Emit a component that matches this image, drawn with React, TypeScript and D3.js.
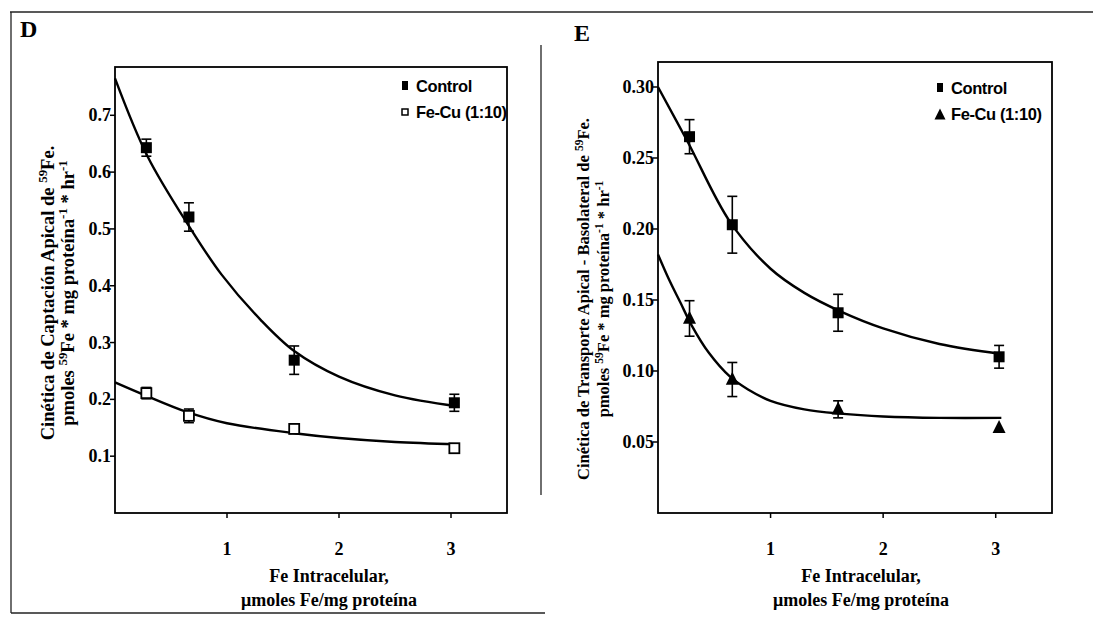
import React from "react";
import * as d3 from "d3";

// ---------- data ----------
const xValues = [0.28, 0.66, 1.6, 3.03];

const dControl = [0.643, 0.521, 0.269, 0.194];
const dControlErr = [0.015, 0.025, 0.025, 0.015];
const dFeCu = [0.211, 0.171, 0.148, 0.114];
const dFeCuErr = [0.01, 0.012, 0.008, 0.006];

const eControl = [0.265, 0.203, 0.141, 0.11];
const eControlErr = [0.012, 0.02, 0.013, 0.008];
const eFeCu = [0.137, 0.094, 0.073, 0.06];
const eFeCuErr = [0.0125, 0.012, 0.006, 0];

// fitted curves
const dControlFit: [number, number][] = [[0, 0.765], [0.29, 0.628], [0.67, 0.502], [0.95, 0.42], [1.3, 0.34], [1.6, 0.285], [2.0, 0.24], [2.5, 0.207], [3.05, 0.188]];
const dFeCuFit: [number, number][] = [[0, 0.23], [0.26, 0.208], [0.64, 0.178], [1.0, 0.158], [1.62, 0.14], [2.0, 0.132], [2.5, 0.125], [3.05, 0.121]];
const eControlFit: [number, number][] = [[0, 0.3], [0.26, 0.262], [0.64, 0.205], [1.0, 0.172], [1.3, 0.155], [1.62, 0.142], [2.0, 0.13], [2.5, 0.119], [3.05, 0.112]];
const eFeCuFit: [number, number][] = [[0, 0.182], [0.1, 0.164], [0.2, 0.148], [0.3, 0.132], [0.45, 0.113], [0.64, 0.096], [0.8, 0.087], [1.0, 0.079], [1.3, 0.073], [1.62, 0.07], [2.0, 0.068], [2.5, 0.067], [3.05, 0.067]];

const xTicks = [1, 2, 3];
const dYTicks = [0.1, 0.2, 0.3, 0.4, 0.5, 0.6, 0.7];
const eYTicks = [0.05, 0.1, 0.15, 0.2, 0.25, 0.3];
const legendLabels = ["Control", "Fe-Cu (1:10)"];

const SERIF = "'Liberation Serif', 'Times New Roman', serif";
const SANS = "'Liberation Sans', Arial, sans-serif";

type PanelProps = {
  letter: string;
  letterX: number; letterY: number;
  left: number; right: number; top: number; bottom: number;
  yMax: number;
  yTicks: number[];
  yFmt: (v: number) => string;
  ctrl: number[]; ctrlErr: number[]; ctrlFit: [number, number][];
  alt: number[]; altErr: number[]; altFit: [number, number][];
  altShape: "openSquare" | "triangle";
  yTitle1: React.ReactNode; yTitle2: React.ReactNode;
  yTitleX: number; yTitleY: number; yTitleSize: number;
  xTitleShift: number;
  legendX: number; legendY: number;
};

function Panel(p: PanelProps) {
  const x = d3.scaleLinear().domain([0, 3.5]).range([p.left, p.right]);
  const y = d3.scaleLinear().domain([0, p.yMax]).range([p.bottom, p.top]);
  const line = d3.line<[number, number]>().x(d => x(d[0])).y(d => y(d[1])).curve(d3.curveCatmullRom.alpha(0.5));
  const cx = (p.left + p.right) / 2 + p.xTitleShift;

  const errBars = (vals: number[], errs: number[], key: string) =>
    vals.map((v, i) => errs[i] > 0 ? (
      <g key={key + i} stroke="#000" strokeWidth={1.6}>
        <line x1={x(xValues[i])} x2={x(xValues[i])} y1={y(v + errs[i])} y2={y(v - errs[i])} />
        <line x1={x(xValues[i]) - 5} x2={x(xValues[i]) + 5} y1={y(v + errs[i])} y2={y(v + errs[i])} />
        <line x1={x(xValues[i]) - 5} x2={x(xValues[i]) + 5} y1={y(v - errs[i])} y2={y(v - errs[i])} />
      </g>
    ) : null);

  const tri = (px: number, py: number, s: number) =>
    `M${px},${py - s * 0.6}L${px + s / 2},${py + s * 0.4}L${px - s / 2},${py + s * 0.4}Z`;

  return (
    <g>
      <text x={p.letterX} y={p.letterY} fontFamily={SERIF} fontWeight="bold" fontSize={24}>{p.letter}</text>
      {/* plot frame */}
      <rect x={p.left} y={p.top} width={p.right - p.left} height={p.bottom - p.top} fill="none" stroke="#000" strokeWidth={1.8} />
      {/* y ticks */}
      {p.yTicks.map(t => (
        <g key={"yt" + t}>
          <line x1={p.left - 5} x2={p.left} y1={y(t)} y2={y(t)} stroke="#000" strokeWidth={1.5} />
          <text x={p.left - 4} y={y(t) + 6} textAnchor="end" fontFamily={SERIF} fontWeight="bold" fontSize={18}>{p.yFmt(t)}</text>
        </g>
      ))}
      {/* x ticks */}
      {xTicks.map(t => (
        <g key={"xt" + t}>
          <line x1={x(t)} x2={x(t)} y1={p.bottom} y2={p.bottom + 5} stroke="#000" strokeWidth={1.5} />
          <text x={x(t)} y={p.bottom + 42} textAnchor="middle" fontFamily={SERIF} fontWeight="bold" fontSize={18}>{t}</text>
        </g>
      ))}
      {/* curves */}
      <path d={line(p.ctrlFit) || ""} fill="none" stroke="#000" strokeWidth={2.4} />
      <path d={line(p.altFit) || ""} fill="none" stroke="#000" strokeWidth={2.4} />
      {errBars(p.ctrl, p.ctrlErr, "ce")}
      {errBars(p.alt, p.altErr, "ae")}
      {/* markers */}
      {p.ctrl.map((v, i) => (
        <rect key={"cm" + i} x={x(xValues[i]) - 5.5} y={y(v) - 5.5} width={11} height={11} fill="#000" />
      ))}
      {p.alt.map((v, i) => p.altShape === "openSquare" ? (
        <rect key={"am" + i} x={x(xValues[i]) - 5} y={y(v) - 5} width={10} height={10} fill="#fff" stroke="#000" strokeWidth={1.8} />
      ) : (
        <path key={"am" + i} d={tri(x(xValues[i]), y(v), 13)} fill="#000" />
      ))}
      {/* legend */}
      <g fontFamily={SANS} fontWeight="bold" fontSize={16.5} letterSpacing={-0.4}>
        <rect x={p.legendX - 3} y={p.legendY - 5} width={6} height={9} fill="#000" />
        <text x={p.legendX + 11} y={p.legendY + 6}>{legendLabels[0]}</text>
        {p.altShape === "openSquare" ? (
          <rect x={p.legendX - 3} y={p.legendY + 23} width={6} height={6} fill="#fff" stroke="#000" strokeWidth={1.5} />
        ) : (
          <path d={tri(p.legendX, p.legendY + 27, 11)} fill="#000" />
        )}
        <text x={p.legendX + 11} y={p.legendY + 32}>{legendLabels[1]}</text>
      </g>
      {/* x title */}
      <text x={cx} y={582} textAnchor="middle" fontFamily={SERIF} fontWeight="bold" fontSize={18}>Fe Intracelular,</text>
      <text x={cx} y={606} textAnchor="middle" fontFamily={SERIF} fontWeight="bold" fontSize={18}>μmoles Fe/mg proteína</text>
      {/* y title */}
      <g transform={`translate(${p.yTitleX},${p.yTitleY}) rotate(-90)`} fontFamily={SERIF} fontWeight="bold" fontSize={p.yTitleSize}>
        <text x={0} y={0} textAnchor="middle">{p.yTitle1}</text>
        <text x={0} y={20} textAnchor="middle">{p.yTitle2}</text>
      </g>
    </g>
  );
}

export default function App() {
  const sup = (s: string) => <tspan baselineShift="super" fontSize="70%">{s}</tspan>;
  return (
    <svg width={1093} height={618} style={{ position: "absolute", left: 0, top: 0, background: "#fff" }}>
      <rect x={0} y={0} width={1093} height={618} fill="#fff" />
      {/* scanned outer frame */}
      <g stroke="#222" strokeWidth={1.3}>
        <line x1={10} x2={1093} y1={12} y2={12} />
        <line x1={11} x2={11} y1={12} y2={613} />
        <line x1={11} x2={545} y1={613} y2={613} />
        <line x1={541} x2={541} y1={45} y2={495} />
      </g>
      <Panel
        letter="D" letterX={20} letterY={37}
        left={115} right={507} top={67} bottom={513}
        yMax={0.785} yTicks={dYTicks} yFmt={v => d3.format(".1f")(v)}
        ctrl={dControl} ctrlErr={dControlErr} ctrlFit={dControlFit}
        alt={dFeCu} altErr={dFeCuErr} altFit={dFeCuFit} altShape="openSquare"
        yTitle1={<>Cinética de Captación Apical de {sup("59")}Fe.</>}
        yTitle2={<>pmoles {sup("59")}Fe * mg proteína{sup("-1")} * hr{sup("-1")}</>}
        yTitleX={54} yTitleY={293} yTitleSize={18.5}
        xTitleShift={18}
        legendX={405} legendY={86}
      />
      <Panel
        letter="E" letterX={574} letterY={41}
        left={658} right={1052} top={62} bottom={513}
        yMax={0.3176} yTicks={eYTicks} yFmt={v => d3.format(".2f")(v)}
        ctrl={eControl} ctrlErr={eControlErr} ctrlFit={eControlFit}
        alt={eFeCu} altErr={eFeCuErr} altFit={eFeCuFit} altShape="triangle"
        yTitle1={<>Cinética de Transporte Apical - Basolateral de {sup("59")}Fe.</>}
        yTitle2={<>pmoles {sup("59")}Fe * mg proteína{sup("-1")} * hr{sup("-1")}</>}
        yTitleX={589} yTitleY={299} yTitleSize={16.5}
        xTitleShift={6}
        legendX={940} legendY={88}
      />
    </svg>
  );
}
